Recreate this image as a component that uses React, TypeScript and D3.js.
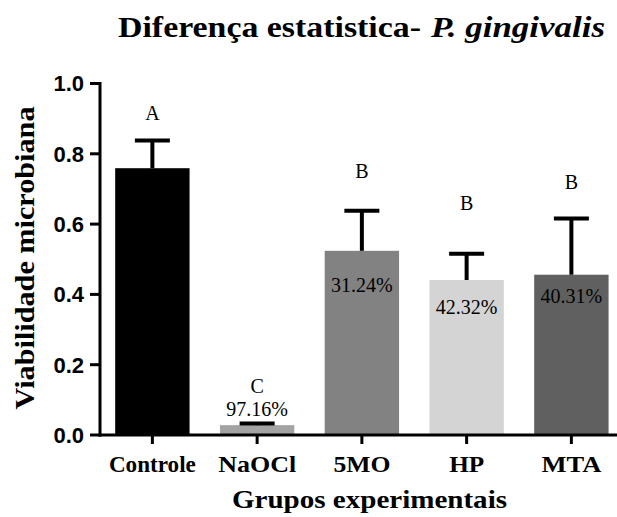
import React from "react";
import * as d3 from "d3";

const categories = ["Controle", "NaOCl", "5MO", "HP", "MTA"];
const means = [0.759, 0.028, 0.524, 0.441, 0.456];
const errTops = [0.838, 0.033, 0.638, 0.516, 0.616];
const letters = ["A", "C", "B", "B", "B"];
const letterVals = [0.895, 0.12, 0.73, 0.64, 0.7];
const pctLabels = ["", "97.16%", "31.24%", "42.32%", "40.31%"];
const pctVals = [0, 0.055, 0.408, 0.345, 0.375];
const colors = ["#000000", "#a3a3a3", "#828282", "#d4d4d4", "#606060"];
const yTicks = [0, 0.2, 0.4, 0.6, 0.8, 1.0];

// visual widths of the category labels (layout)
const catLabelW = [87, 78, 57, 35, 60];

export default function App() {
  const W = 617, H = 517;
  const x0 = 100, y0 = 435;
  const x = d3.scaleBand<string>().domain(categories).range([x0, 623.75]).paddingInner(0.29).paddingOuter(0.145);
  const y = d3.scaleLinear().domain([0, 1]).range([y0, 83.5]);
  const bw = x.bandwidth();
  const serif = "'Liberation Serif', 'Times New Roman', serif";
  const sans = "'Liberation Sans', Arial, sans-serif";
  return (
    <svg width={W} height={H} style={{ position: "absolute", left: 0, top: 0, background: "#fff" }}>
      <text x={118} y={37} fontFamily={serif} fontWeight="bold" fontSize={30} textLength={303} lengthAdjust="spacingAndGlyphs">
        Diferença estatistica-
      </text>
      <text x={431} y={37} fontFamily={serif} fontWeight="bold" fontStyle="italic" fontSize={30} textLength={174} lengthAdjust="spacingAndGlyphs">
        P. gingivalis
      </text>
      {categories.map((c, i) => {
        const cx = (x(c) as number) + bw / 2;
        return (
          <g key={c}>
            <rect x={x(c)} y={y(means[i])} width={bw} height={y0 - y(means[i])} fill={colors[i]} />
            <line x1={cx} x2={cx} y1={y(means[i])} y2={y(errTops[i])} stroke="#000" strokeWidth={4} />
            <line x1={cx - 17.5} x2={cx + 17.5} y1={y(errTops[i])} y2={y(errTops[i])} stroke="#000" strokeWidth={4} />
            <text x={cx} y={y(letterVals[i])} textAnchor="middle" fontFamily={serif} fontSize={20}>{letters[i]}</text>
            {pctLabels[i] && (
              <text x={cx} y={y(pctVals[i])} textAnchor="middle" fontFamily={serif} fontSize={20} fill="#000">{pctLabels[i]}</text>
            )}
            <line x1={cx} x2={cx} y1={y0} y2={y0 + 9} stroke="#000" strokeWidth={3} />
            <text x={cx - catLabelW[i] / 2} y={472} fontFamily={serif} fontWeight="bold" fontSize={24}
              textLength={catLabelW[i]} lengthAdjust="spacingAndGlyphs">{c}</text>
          </g>
        );
      })}
      <line x1={x0} x2={x0} y1={y(1) - 1.5} y2={y0 + 1.5} stroke="#000" strokeWidth={3} />
      <line x1={x0 - 1.5} x2={W} y1={y0} y2={y0} stroke="#000" strokeWidth={3} />
      {yTicks.map((t) => (
        <g key={t}>
          <line x1={x0 - 10} x2={x0} y1={y(t)} y2={y(t)} stroke="#000" strokeWidth={3} />
          <text x={84} y={y(t)} dy="0.36em" textAnchor="end" fontFamily={sans} fontWeight="bold" fontSize={22}>{t.toFixed(1)}</text>
        </g>
      ))}
      <text transform={`translate(34,258) rotate(-90)`} x={-151.5} fontFamily={serif} fontWeight="bold" fontSize={27}
        textLength={303} lengthAdjust="spacingAndGlyphs">
        Viabilidade microbiana
      </text>
      <text x={232} y={508} fontFamily={serif} fontWeight="bold" fontSize={25} textLength={275} lengthAdjust="spacingAndGlyphs">
        Grupos experimentais
      </text>
    </svg>
  );
}
